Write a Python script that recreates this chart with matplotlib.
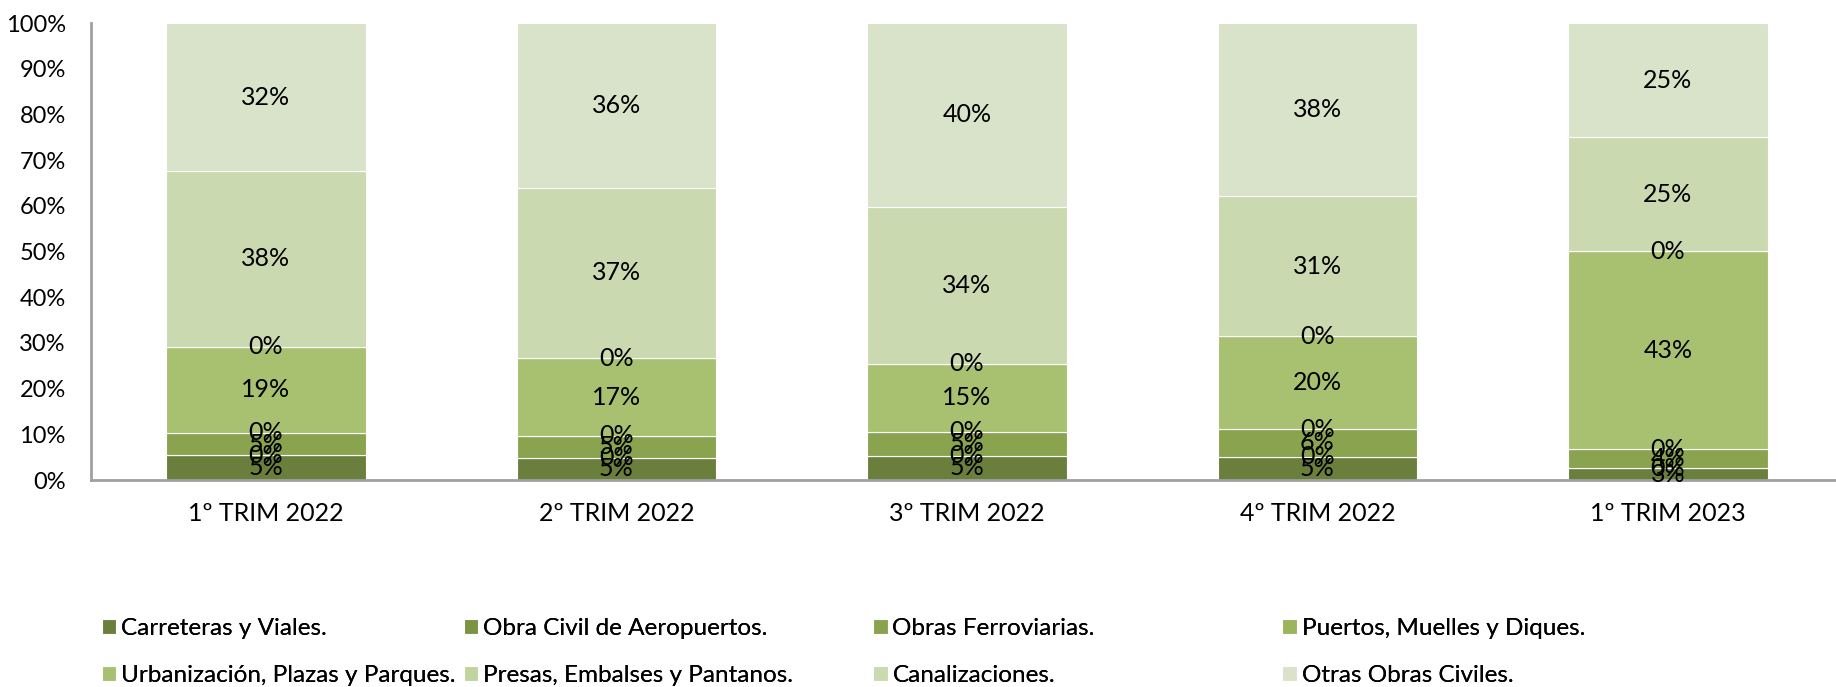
import matplotlib.pyplot as plt
import numpy as np

# Obra civil licitada por tipo de obra (% sobre el total de cada trimestre)
periodos = ['1º TRIM 2022', '2º TRIM 2022', '3º TRIM 2022', '4º TRIM 2022', '1º TRIM 2023']

tipos = ['Carreteras y Viales.', 'Obra Civil de Aeropuertos.', 'Obras Ferroviarias.',
         'Puertos, Muelles y Diques.', 'Urbanización, Plazas y Parques.',
         'Presas, Embalses y Pantanos.', 'Canalizaciones.', 'Otras Obras Civiles.']

carreteras = [5.4, 4.9, 5.3, 5.1, 2.6]
aeropuertos = [0, 0, 0, 0, 0]
ferroviarias = [4.9, 4.8, 5.3, 6.0, 4.1]
puertos = [0, 0, 0, 0, 0]
urbanizacion = [18.9, 16.9, 14.8, 20.4, 43.4]
presas = [0, 0, 0, 0, 0]
canalizaciones = [38.4, 37.4, 34.4, 30.6, 24.9]
otras = [32.4, 36.0, 40.2, 37.9, 25.0]

colores = ['#6b7f3c', '#7b9343', '#8aa34f', '#9bb55d', '#a8c170',
           '#c2d49e', '#cad9b0', '#d9e3c9']

series = [carreteras, aeropuertos, ferroviarias, puertos, urbanizacion,
          presas, canalizaciones, otras]

plt.rcParams['font.family'] = ['Lato', 'DejaVu Sans']

fig = plt.figure(figsize=(18.36, 6.87), dpi=100)
ax = fig.add_axes([0.0494, 0.3013, 0.9545, 0.6652])

x = np.arange(len(periodos))
base = np.zeros(len(periodos))
handles = []
for nombre, vals, col in zip(tipos, series, colores):
    vals = np.array(vals, dtype=float)
    bars = ax.bar(x, vals, width=0.57, bottom=base, color=col,
                  edgecolor='white', linewidth=0.8, label=nombre)
    ax.bar_label(bars, labels=[f'{v:.0f}%' for v in vals], label_type='center',
                 fontsize=18, color='black')
    handles.append(bars)
    base += vals

ax.set_xlim(-0.5, len(periodos) - 0.5)
ax.set_ylim(0, 100)
ax.set_yticks(np.arange(0, 101, 10))
ax.set_yticklabels([f'{t}%' for t in range(0, 101, 10)])
ax.set_xticks(x)
ax.set_xticklabels(periodos)
ax.tick_params(axis='both', length=0, labelsize=18)
ax.tick_params(axis='y', labelsize=17, pad=18)
ax.tick_params(axis='x', pad=16)

for s in ['top', 'right']:
    ax.spines[s].set_visible(False)
for s in ['left', 'bottom']:
    ax.spines[s].set_color('#a0a0a0')
    ax.spines[s].set_linewidth(2)

# leyenda en 4 columnas de 2 filas
col_x = [0.0555, 0.2525, 0.4755, 0.6985]
for i, cx in enumerate(col_x):
    hs = [handles[i], handles[i + 4]]
    leg = fig.legend(hs, [tipos[i], tipos[i + 4]], loc='upper left',
                     bbox_to_anchor=(cx, 0.100), frameon=False,
                     fontsize=17.5, handlelength=0.6, handleheight=0.6,
                     handletextpad=0.2, labelspacing=1.05, borderaxespad=0,
                     borderpad=0)
    fig.add_artist(leg)

fig.savefig('out.png', dpi=100)
